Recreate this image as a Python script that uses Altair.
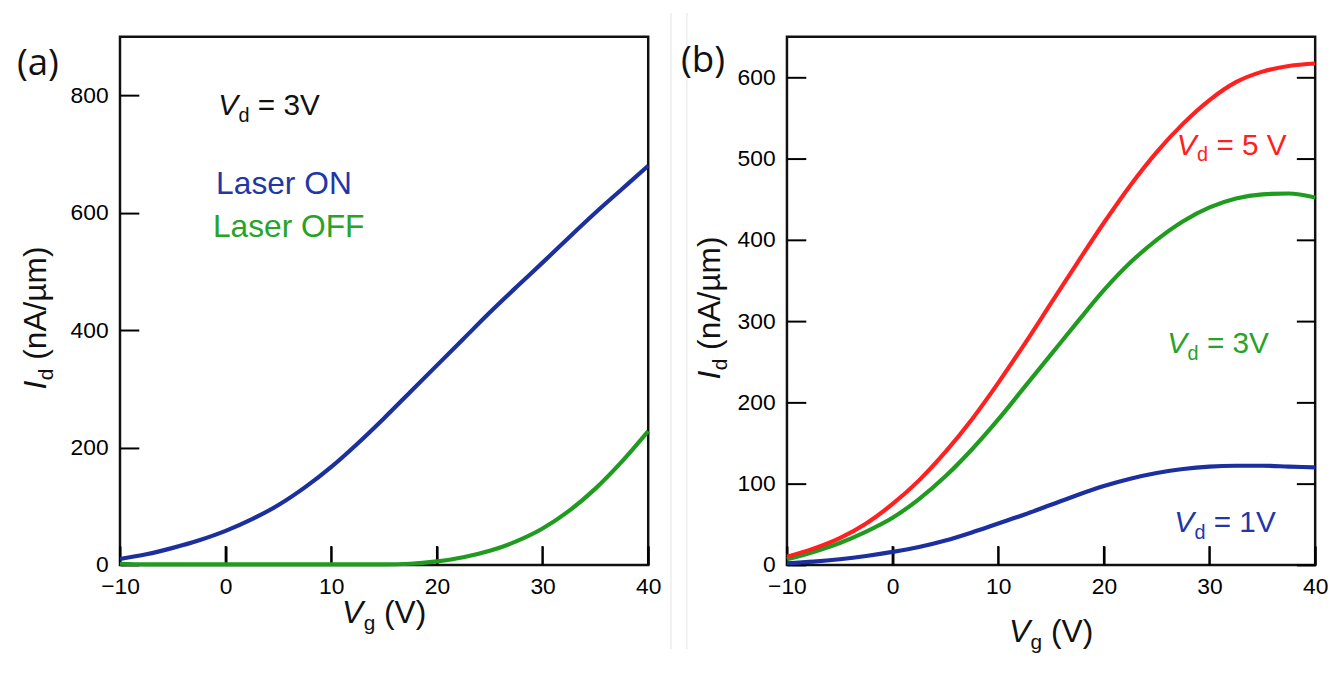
import altair as alt
import pandas as pd

# ---------------- data ----------------
vg = [-10, -7.5, -5, -2.5, 0, 2.5, 5, 7.5, 10, 12.5, 15, 17.5, 20,
      22.5, 25, 27.5, 30, 32.5, 35, 37.5, 40]

# panel (a): Vd = 3 V
a_laser_on = [10, 18, 29, 42, 58, 78, 102, 132, 167, 207, 250, 295, 340,
              385, 430, 473, 515, 558, 600, 640, 680]
a_laser_off = [2, 1, 1, 1, 1, 1, 1, 1, 1, 1, 1, 2, 6,
               13, 24, 40, 62, 92, 130, 176, 228]

# panel (b): three drain voltages
b_vd5 = [10, 20, 33, 51, 75, 104, 139, 179, 224, 272, 322, 372, 421,
         467, 508, 543, 572, 594, 607, 614, 617]
b_vd3 = [7, 16, 27, 41, 58, 81, 109, 142, 179, 219, 259, 299, 338,
         372, 400, 423, 440, 451, 456, 457, 452]
b_vd1 = [2, 4, 7, 11, 16, 22, 30, 40, 51, 62, 74, 86, 97,
         106, 113, 118, 121, 122, 122, 121, 120]

x_ticks = [-10, 0, 10, 20, 30, 40]
a_y_ticks = [0, 200, 400, 600, 800]
b_y_ticks = [0, 100, 200, 300, 400, 500, 600]

# annotation anchors in data coordinates
a_vd_x, a_vd_y = -0.7, 767
a_on_x, a_on_y = -0.9, 632
a_off_x, a_off_y = -1.2, 559
b_notes_rest = ["= 5 V", "= 3V", "= 1V"]
b_notes_x = [26.9, 26.0, 26.65]
b_notes_y = [505, 261, 40]

# ---------------- styling ----------------
FONT = "Liberation Sans"
BLUE, GREEN, RED = "#1c2f9e", "#1f9b1f", "#ff2020"
TBLUE, TGREEN = "#2137a8", "#27a327"
W = H = 533
TICK = 19
X_DOMAIN = [-10, 40]


def x_enc(field="vg", axis=True):
    ax = alt.Axis(values=x_ticks, title=None, offset=-TICK, tickSize=TICK,
                  domain=False, grid=False, labelPadding=11, labelFlush=False,
                  labelOverlap=False, labelFont=FONT, labelFontSize=23,
                  labelColor="black", tickColor="black", tickWidth=2) if axis else None
    return alt.X(f"{field}:Q", scale=alt.Scale(domain=X_DOMAIN, nice=False, zero=False), axis=ax)


def y_enc(domain, ticks, field="id", orient="left", labels=True, axis=True):
    if axis:
        ax = alt.Axis(values=ticks, title=None, orient=orient, offset=-TICK,
                      tickSize=TICK, domain=False, grid=False, labels=labels,
                      labelPadding=12, labelFont=FONT, labelFontSize=23,
                      labelColor="black", tickColor="black", tickWidth=2)
    else:
        ax = None
    return alt.Y(f"{field}:Q", scale=alt.Scale(domain=domain, nice=False, zero=False), axis=ax)


def long_df(names, series):
    rows = []
    for name, vals in zip(names, series):
        for x, y in zip(vg, vals):
            rows.append({"vg": x, "id": y, "series": name})
    return pd.DataFrame(rows)


def rich(main, sub, rest, size, sub_size, color, angle=0, px=None, data=None,
         ydomain=None, main_w=0.667, sub_w=0.556, sub_shift=7, gap=0.5):
    """Italic main letter + subscript + (space) rest, as three text marks."""
    if data is not None:
        base = alt.Chart(pd.DataFrame({"x": [data[0]], "y": [data[1]]})).encode(
            x=x_enc("x", axis=False), y=y_enc(ydomain, [], "y", axis=False))
    else:
        base = alt.Chart(pd.DataFrame({"k": [0]})).encode(
            x=alt.value(px[0]), y=alt.value(px[1]))
    common = dict(font=FONT, align="left", baseline="alphabetic", angle=angle, color=color)
    d1 = main_w * size + gap
    d2 = d1 + sub_w * sub_size + 0.278 * size
    return [
        base.mark_text(text=main, fontSize=size, fontStyle="italic", **common),
        base.mark_text(text=sub, fontSize=sub_size, dx=d1, dy=sub_shift, **common),
        base.mark_text(text=rest, fontSize=size, dx=d2, **common),
    ]


def plain(text, color, x, y, ydomain, size=32):
    return alt.Chart(pd.DataFrame({"x": [x], "y": [y]})).mark_text(
        text=text, font=FONT, fontSize=size, align="left", baseline="alphabetic",
        color=color).encode(x=x_enc("x", axis=False), y=y_enc(ydomain, [], "y", axis=False))


def panel_label(text, px):
    return alt.Chart(pd.DataFrame({"k": [0]})).mark_text(
        text=text, font="Open Sans", fontSize=37, align="left", baseline="alphabetic",
        color="#111111").encode(x=alt.value(px[0]), y=alt.value(px[1]))


def separator(xpx):
    # faint frame line between the two pictures
    return alt.Chart(pd.DataFrame({"k": [0]})).mark_rule(
        color="#e4e4e4", strokeWidth=1).encode(
        x=alt.value(xpx), y=alt.value(-24), y2=alt.value(H + 85))


def x_tick_marks():
    # inward ticks along the bottom edge at the x tick values
    return alt.Chart(pd.DataFrame({"t": x_ticks})).mark_rule(
        color="black", strokeWidth=2).encode(
        x=x_enc("t", axis=False), y=alt.value(H - TICK), y2=alt.value(H))


# ---------------- panel (a) ----------------
A_DOM = [0, 900]
a_df = long_df(["Laser ON", "Laser OFF"], [a_laser_on, a_laser_off])
a_lines = alt.Chart(a_df).mark_line(strokeWidth=4.2, interpolate="monotone").encode(
    x=x_enc(), y=y_enc(A_DOM, a_y_ticks),
    color=alt.Color("series:N", scale=alt.Scale(domain=["Laser ON", "Laser OFF"],
                                                range=[BLUE, GREEN]), legend=None))

a_layers = [separator(W + 23), separator(W + 39), x_tick_marks(), a_lines,
            plain("Laser ON", TBLUE, a_on_x, a_on_y, A_DOM),
            plain("Laser OFF", TGREEN, a_off_x, a_off_y, A_DOM)]
a_layers += rich("V", "d", "= 3V", 30, 20, "#111111", data=(a_vd_x, a_vd_y), ydomain=A_DOM)
a_layers += rich("V", "g", "(V)", 32, 21, "#111111", px=(224, H + 59))
a_layers += rich("I", "d", "(nA/\u00b5m)", 32, 21, "#111111", angle=270, px=(-75, 356),
                 main_w=0.278, sub_shift=7)
a_layers.append(panel_label("(a)", (-104, 39)))

panel_a = alt.layer(*a_layers).resolve_axis(x="independent", y="independent").properties(
    width=W, height=H)

# ---------------- panel (b) ----------------
B_DOM = [0, 650]
b_names = ["1V", "3V", "5V"]
b_df = long_df(b_names, [b_vd1, b_vd3, b_vd5])
b_lines = alt.Chart(b_df).mark_line(strokeWidth=4.2, interpolate="monotone").encode(
    x=x_enc(), y=y_enc(B_DOM, b_y_ticks),
    color=alt.Color("series:N", scale=alt.Scale(domain=b_names, range=[BLUE, GREEN, RED]),
                    legend=None))
b_right = alt.Chart(b_df).mark_line(opacity=0).encode(
    x=x_enc(axis=False), y=y_enc(B_DOM, b_y_ticks, orient="right", labels=False),
    detail="series:N")

b_layers = [x_tick_marks(), b_lines, b_right]
for rest, nx, ny, col in zip(b_notes_rest, b_notes_x, b_notes_y, [RED, TGREEN, TBLUE]):
    b_layers += rich("V", "d", rest, 30, 20, col, data=(nx, ny), ydomain=B_DOM)
b_layers += rich("V", "g", "(V)", 32, 21, "#111111", px=(224, H + 78))
b_layers += rich("I", "d", "(nA/\u00b5m)", 32, 21, "#111111", angle=270, px=(-68, 346),
                 main_w=0.278, sub_shift=7)
b_layers.append(panel_label("(b)", (-107, 36)))

panel_b = alt.layer(*b_layers).resolve_axis(x="independent", y="independent").properties(
    width=W, height=H)

chart = alt.hconcat(panel_a, panel_b, spacing=140, bounds="flush").resolve_scale(
    color="independent"
).properties(
    padding={"left": 7, "top": 0, "right": 5, "bottom": 0}
).configure_view(stroke="#111111", strokeWidth=2.5)

chart.save("out.html", embed_options={"renderer": "svg", "actions": False})
